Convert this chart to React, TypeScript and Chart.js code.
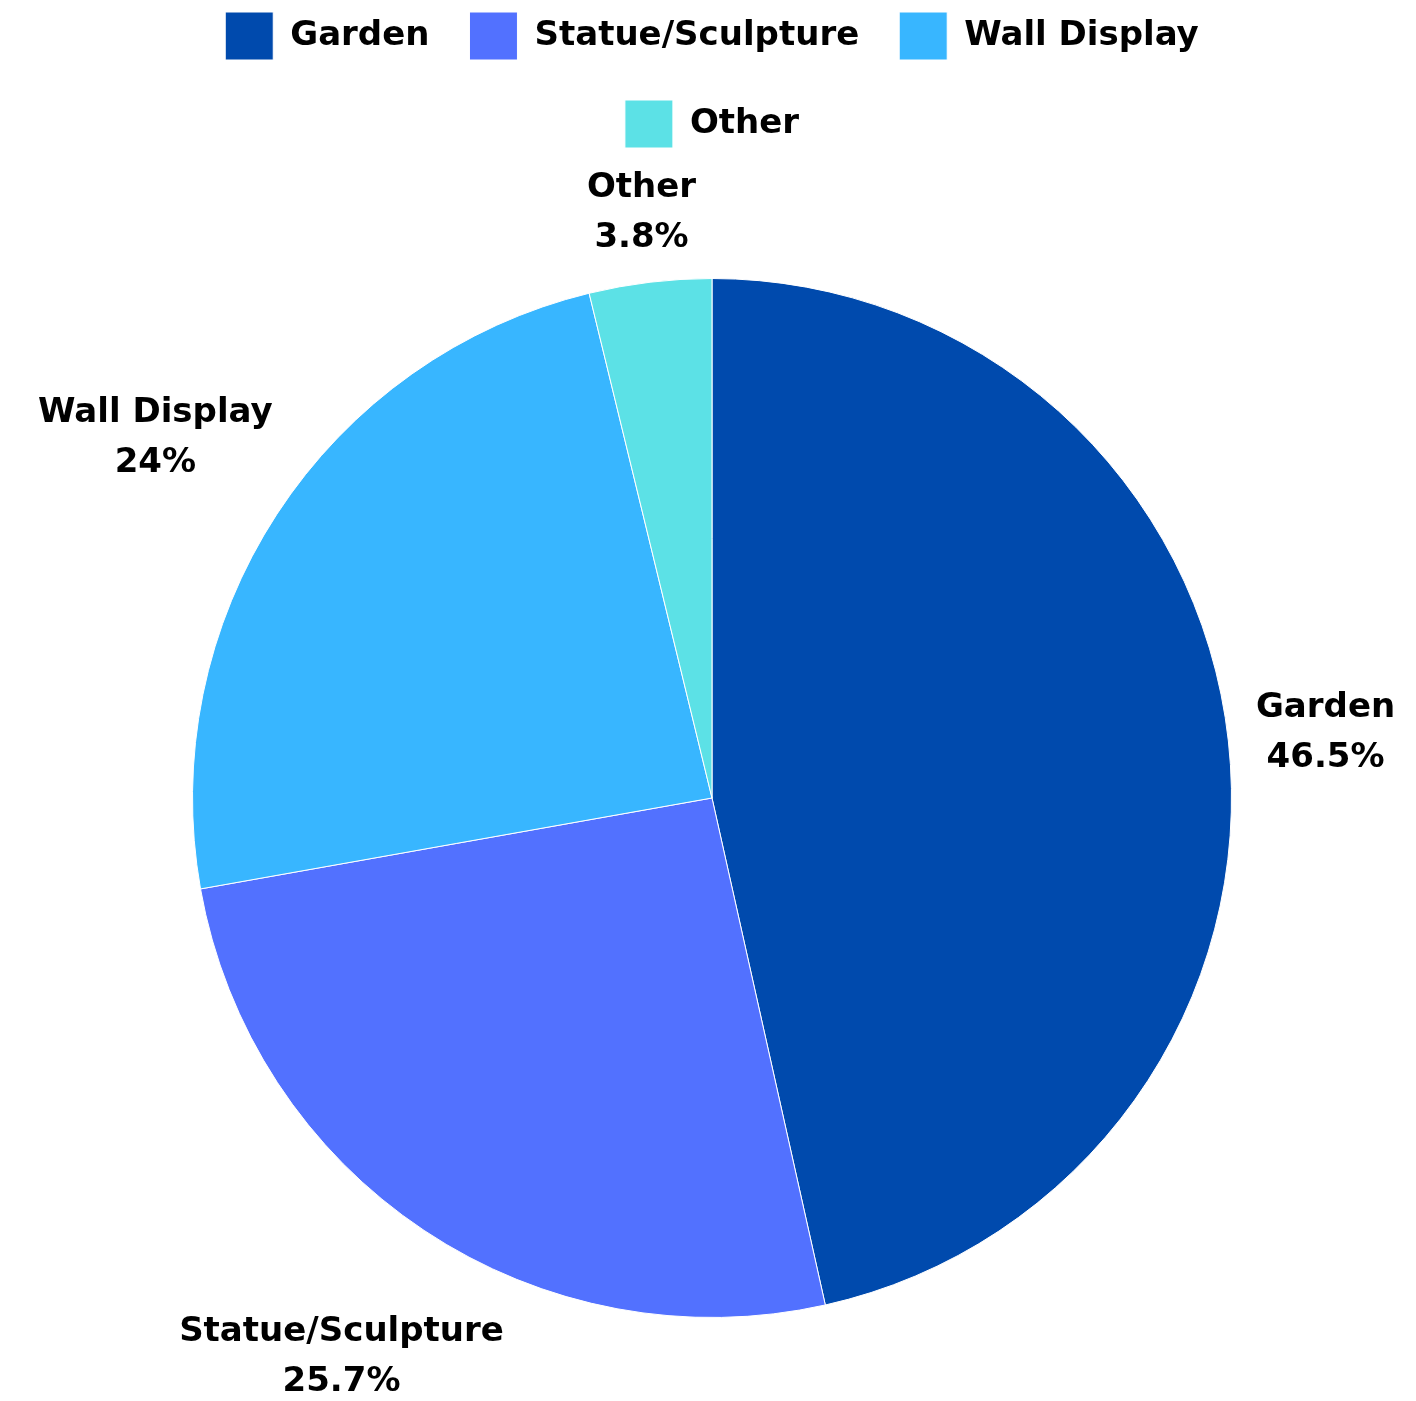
import React, { useEffect, useRef } from "react";
import { Chart, registerables } from "chart.js";

Chart.register(...registerables);

const categories = ["Garden", "Statue/Sculpture", "Wall Display", "Other"];
const shares = [46.5, 25.7, 24, 3.8];
const sliceColors = ["#004aad", "#5271ff", "#38b6ff", "#5ce1e6"];

const FONT = "'DejaVu Sans', Verdana, sans-serif";
const FONT_SIZE = 34;
const TEXT_COLOR = "#000000";

const legendSpacer = {
  id: "legendSpacer",
  beforeLayout(chart: any) {
    const lg = chart.legend;
    if (lg && !lg.__patched) {
      const orig = lg.fit;
      lg.fit = function () {
        this.maxWidth = Math.min(this.maxWidth, 1150);
        orig.call(this);
        this.height += 120;
      };
      lg.__patched = true;
    }
  },
};

const outsideLabels = {
  id: "outsideLabels",
  afterDraw(chart: any) {
    const ctx = chart.ctx;
    const meta = chart.getDatasetMeta(0);
    const ds = chart.data.datasets[0];
    ctx.save();
    ctx.font = `bold ${FONT_SIZE}px ${FONT}`;
    ctx.fillStyle = TEXT_COLOR;
    ctx.textAlign = "center";
    ctx.textBaseline = "middle";
    const lineGap = 50;
    meta.data.forEach((arc: any, i: number) => {
      const { x, y, startAngle, endAngle, outerRadius } = arc.getProps(
        ["x", "y", "startAngle", "endAngle", "outerRadius"],
        true
      );
      const mid = (startAngle + endAngle) / 2;
      const lines = [chart.data.labels[i], `${ds.data[i]}%`];
      const w = Math.max(...lines.map((l: string) => ctx.measureText(l).width));
      const h = 84;
      const c = Math.cos(mid);
      const s = Math.sin(mid);
      const d = outerRadius + 24 + (w / 2) * Math.abs(c) + (h / 2) * Math.abs(s);
      const cx = x + c * d;
      const cy = y + s * d + 3;
      ctx.fillText(lines[0], cx, cy - lineGap / 2);
      ctx.fillText(lines[1], cx, cy + lineGap / 2);
    });
    ctx.restore();
  },
};

export default function App() {
  const ref = useRef<HTMLCanvasElement | null>(null);
  useEffect(() => {
    if (!ref.current) return;
    const chart = new Chart(ref.current, {
      type: "pie",
      data: {
        labels: categories,
        datasets: [
          {
            data: shares,
            backgroundColor: sliceColors,
            borderColor: "#ffffff",
            borderWidth: 1,
          },
        ],
      },
      options: {
        responsive: false,
        animation: false,
        layout: { padding: { left: 8, right: 0, top: -36, bottom: 75 } },
        plugins: {
          legend: {
            position: "top",
            labels: {
              boxWidth: 48,
              boxHeight: 48,
              padding: 40,
              color: TEXT_COLOR,
              font: { family: FONT, size: FONT_SIZE, weight: "bold" },
            },
          },
          tooltip: { enabled: false },
        },
      },
      plugins: [legendSpacer, outsideLabels],
    });
    return () => chart.destroy();
  }, []);
  return <canvas ref={ref} width={1400} height={1385} style={{ display: "block" }} />;
}
